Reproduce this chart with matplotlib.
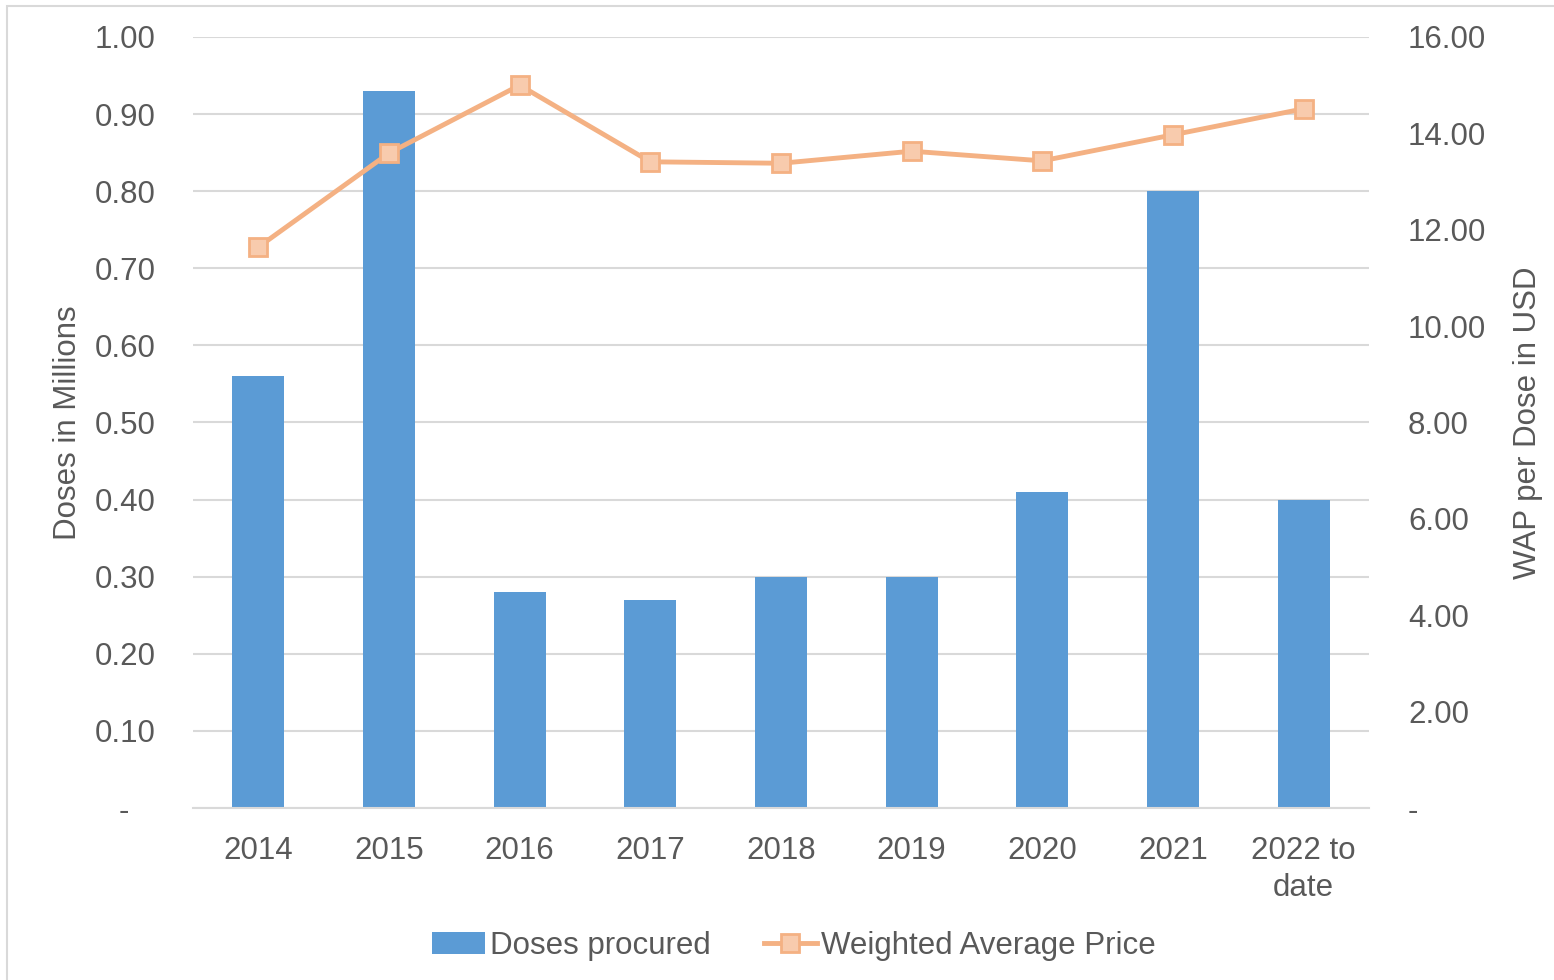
import matplotlib
matplotlib.use("Agg")
import matplotlib.pyplot as plt
from matplotlib.ticker import FixedLocator, FuncFormatter
from matplotlib.patches import Rectangle
import numpy as np

plt.rcParams['font.family'] = ['Liberation Sans', 'DejaVu Sans']

categories = ["2014", "2015", "2016", "2017", "2018", "2019", "2020", "2021", "2022 to\ndate"]
doses = [0.56, 0.93, 0.28, 0.27, 0.30, 0.30, 0.41, 0.80, 0.40]
wap = [11.64, 13.59, 15.00, 13.41, 13.38, 13.63, 13.43, 13.97, 14.51]

TXT = "#595959"
BAR = "#5B9BD5"
LINE = "#F4B183"
MFACE = "#F8CBAD"
FS = 22.5

fig = plt.figure(figsize=(15.54, 9.8), dpi=100)
ax = fig.add_axes([193/1554, 1-808/980, (1369-193)/1554, (808-37)/980])
ax2 = ax.twinx()

x = np.arange(len(categories))
ax.bar(x, doses, width=0.4, color=BAR, zorder=2, label="Doses procured")
ax2.plot(x, wap, color=LINE, lw=3.5, marker='s', ms=13, mfc=MFACE, mec=LINE, mew=2,
         zorder=3, label="Weighted Average Price")

ax.set_xlim(-0.5, len(categories)-0.5)
ax.set_ylim(0, 1.0)
ax2.set_ylim(0, 16)
ax.yaxis.set_major_locator(FixedLocator(np.arange(0, 1.01, 0.1)))
ax2.yaxis.set_major_locator(FixedLocator(np.arange(0, 16.1, 2)))
ax.yaxis.set_major_formatter(FuncFormatter(lambda v, p: "-   " if abs(v) < 1e-9 else f"{v:.2f}"))
ax2.yaxis.set_major_formatter(FuncFormatter(lambda v, p: "-" if abs(v) < 1e-9 else f"{v:.2f}"))
ax.set_xticks(x)
ax.set_xticklabels(categories, linespacing=1.3)

ax.grid(axis='y', color="#D9D9D9", lw=1.5, zorder=0)
ax.set_axisbelow(True)
for a in (ax, ax2):
    for s in a.spines.values():
        s.set_visible(False)
ax.spines['bottom'].set_visible(True)
ax.spines['bottom'].set_color("#D9D9D9")
ax.spines['bottom'].set_linewidth(1.5)

ax.tick_params(axis='both', length=0, labelsize=FS, labelcolor=TXT)
ax.tick_params(axis='y', pad=27)
ax.tick_params(axis='x', pad=20)
ax2.tick_params(axis='y', length=0, labelsize=FS, labelcolor=TXT, pad=28)

ax.set_ylabel("Doses in Millions", fontsize=FS, color=TXT, labelpad=8)
ax2.set_ylabel("WAP per Dose in USD", fontsize=FS, color=TXT, labelpad=19)

h1, l1 = ax.get_legend_handles_labels()
h2, l2 = ax2.get_legend_handles_labels()
leg = fig.legend(h1 + h2, l1 + l2, loc='center', bbox_to_anchor=(794/1554, 1-946/980),
                 ncol=2, frameon=False, fontsize=FS, labelcolor=TXT,
                 handlelength=1.7, handletextpad=0.15, columnspacing=1.7)

fig.patches.append(Rectangle((7/1554, -0.01), 1.1, 1-6/980+0.01, transform=fig.transFigure,
                             fill=False, edgecolor="#D9D9D9", lw=1.5))

fig.savefig("out.png", dpi=100)
